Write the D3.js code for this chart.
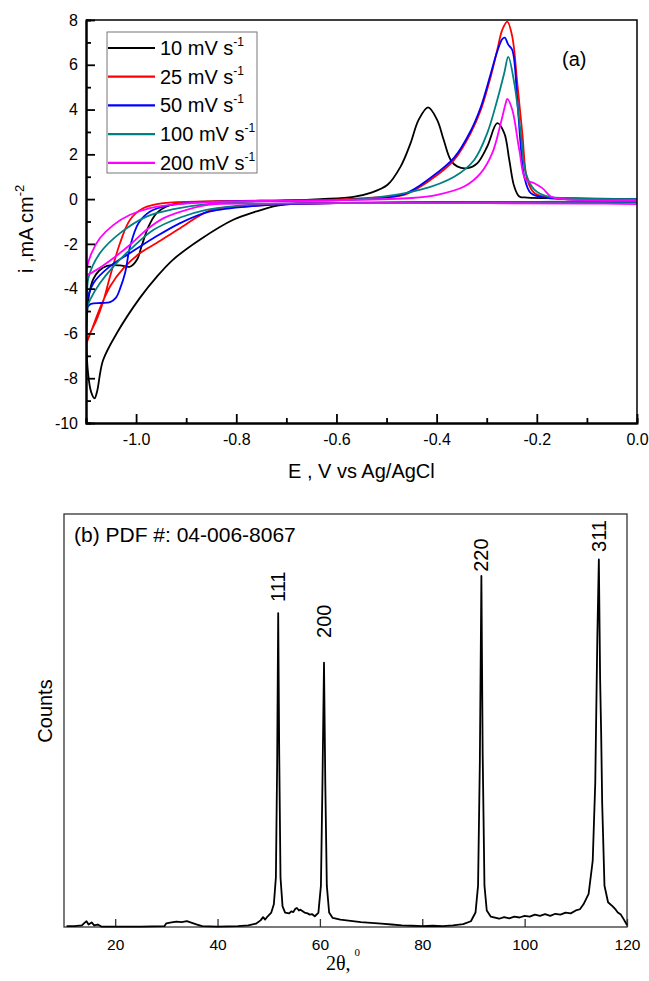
<!DOCTYPE html>
<html lang="en">
<head>
<meta charset="UTF-8">
<title>CV and XRD</title>
<script src="https://d3js.org/d3.v7.min.js"></script>
<style>
  body { margin: 0; background: #fff; }
  svg { display: block; font-family: "Liberation Sans", Arial, sans-serif; }
</style>
</head>
<body>
<svg id="chart" width="649" height="981"></svg>
<script>
// (a) cyclic voltammograms: [E (V vs Ag/AgCl), i (mA cm-2)]
const cv10 = [[0.0,-0.1],[-0.2,-0.12],[-0.4,-0.14],[-0.6,-0.17],[-0.68,-0.2],[-0.718,-0.29],[-0.76,-0.55],[-0.806,-0.92],[-0.872,-1.8],[-0.926,-2.7],[-0.958,-3.45],[-0.992,-4.4],[-1.038,-5.97],[-1.066,-7.2],[-1.078,-8.6],[-1.083,-8.9],[-1.09,-8.6],[-1.096,-7.75],[-1.099,-6.4],[-1.098,-5.2],[-1.094,-4.3],[-1.086,-3.6],[-1.074,-3.2],[-1.058,-2.98],[-1.032,-2.96],[-1.012,-3.02],[-0.998,-2.7],[-0.989,-2.1],[-0.975,-1.22],[-0.959,-0.63],[-0.939,-0.33],[-0.9,-0.15],[-0.8,-0.1],[-0.7,-0.07],[-0.632,0.0],[-0.566,0.1],[-0.532,0.28],[-0.498,0.64],[-0.472,1.45],[-0.452,2.5],[-0.436,3.54],[-0.417,4.1],[-0.399,3.54],[-0.386,2.65],[-0.372,1.75],[-0.359,1.46],[-0.339,1.38],[-0.319,1.6],[-0.299,2.35],[-0.279,3.39],[-0.265,2.95],[-0.255,1.75],[-0.245,0.56],[-0.235,0.12],[-0.219,0.07],[-0.15,0.04],[0.0,0.0]];
const cv25 = [[0.0,-0.12],[-0.3,-0.14],[-0.6,-0.18],[-0.7,-0.22],[-0.78,-0.32],[-0.852,-0.5],[-0.912,-1.3],[-0.959,-1.96],[-0.992,-2.41],[-1.025,-3.08],[-1.052,-3.9],[-1.072,-4.87],[-1.088,-5.8],[-1.1,-6.5],[-1.092,-6.0],[-1.079,-5.4],[-1.066,-4.6],[-1.052,-3.46],[-1.032,-1.96],[-1.012,-0.92],[-0.985,-0.4],[-0.945,-0.18],[-0.85,-0.1],[-0.7,-0.06],[-0.6,-0.02],[-0.52,0.08],[-0.465,0.19],[-0.412,0.86],[-0.365,1.75],[-0.332,2.95],[-0.312,3.97],[-0.292,5.47],[-0.279,6.66],[-0.269,7.56],[-0.259,7.93],[-0.249,7.26],[-0.239,5.18],[-0.229,2.95],[-0.219,0.86],[-0.205,0.27],[-0.165,0.04],[0.0,0.0]];
const cv50 = [[0.0,-0.14],[-0.3,-0.15],[-0.6,-0.18],[-0.7,-0.22],[-0.76,-0.3],[-0.852,-0.55],[-0.912,-1.07],[-0.965,-1.74],[-1.012,-2.41],[-1.052,-3.0],[-1.085,-3.75],[-1.1,-4.85],[-1.09,-4.68],[-1.07,-4.64],[-1.052,-4.6],[-1.04,-4.4],[-1.032,-4.0],[-1.022,-3.3],[-1.012,-2.12],[-0.995,-1.07],[-0.972,-0.55],[-0.939,-0.3],[-0.85,-0.12],[-0.7,-0.06],[-0.55,0.0],[-0.465,0.22],[-0.412,0.95],[-0.365,1.85],[-0.332,3.05],[-0.312,4.1],[-0.292,5.6],[-0.279,6.6],[-0.269,7.15],[-0.264,7.21],[-0.257,6.9],[-0.249,6.66],[-0.239,4.43],[-0.232,2.35],[-0.225,1.0],[-0.212,0.27],[-0.18,0.06],[0.0,0.0]];
const cv100 = [[0.0,-0.12],[-0.3,-0.14],[-0.6,-0.17],[-0.72,-0.2],[-0.8,-0.3],[-0.86,-0.48],[-0.912,-0.82],[-0.965,-1.37],[-1.012,-2.26],[-1.045,-3.0],[-1.072,-3.75],[-1.092,-4.5],[-1.1,-4.95],[-1.098,-4.4],[-1.095,-3.5],[-1.072,-2.41],[-1.032,-1.52],[-0.979,-0.78],[-0.925,-0.45],[-0.85,-0.2],[-0.7,-0.08],[-0.55,0.0],[-0.432,0.42],[-0.365,1.0],[-0.325,1.75],[-0.299,2.95],[-0.279,4.43],[-0.265,5.63],[-0.257,6.35],[-0.245,5.18],[-0.232,2.95],[-0.222,1.16],[-0.205,0.42],[-0.179,0.12],[-0.12,0.03],[0.0,0.0]];
const cv200 = [[0.0,-0.22],[-0.1,-0.2],[-0.3,-0.18],[-0.6,-0.18],[-0.75,-0.2],[-0.852,-0.25],[-0.899,-0.48],[-0.945,-0.85],[-0.979,-1.37],[-1.012,-2.04],[-1.045,-2.63],[-1.079,-3.16],[-1.1,-3.38],[-1.099,-3.16],[-1.089,-2.41],[-1.072,-1.74],[-1.045,-1.15],[-1.012,-0.7],[-0.972,-0.4],[-0.912,-0.21],[-0.8,-0.1],[-0.6,-0.05],[-0.45,0.05],[-0.399,0.19],[-0.345,0.56],[-0.312,1.16],[-0.289,2.05],[-0.272,3.39],[-0.262,4.29],[-0.259,4.48],[-0.249,3.99],[-0.235,2.2],[-0.222,0.86],[-0.205,0.71],[-0.189,0.49],[-0.172,0.12],[-0.152,0.01],[0.0,-0.05]];
const scanRates = ["10", "25", "50", "100", "200"];
const cvColors = ["#000000", "#ff0000", "#0000ff", "#008080", "#ff00ff"];
const xTicksA = [-1.0, -0.8, -0.6, -0.4, -0.2, 0.0];
const xMinorA = [-1.1, -0.9, -0.7, -0.5, -0.3, -0.1];
const yTicksA = [-10, -8, -6, -4, -2, 0, 2, 4, 6, 8];
const yMinorA = [-9, -7, -5, -3, -1, 1, 3, 5, 7];

// (b) XRD pattern: [2theta, counts (arb.)]
const xrd = [[10.5,0.002],[12,0.002],[13.5,0.004],[14.0,0.01],[14.4,0.014],[14.8,0.006],[15.4,0.011],[15.9,0.004],[16.6,0.006],[17.3,0.001],[20,0.001],[25,0.001],[29.6,0.002],[30.0,0.009],[31,0.011],[32,0.013],[33,0.012],[34,0.014],[35,0.01],[36,0.006],[37,0.002],[40,0.001],[44,0.002],[46,0.004],[47.5,0.008],[48.4,0.016],[48.9,0.024],[49.3,0.018],[49.8,0.026],[50.5,0.035],[51.0,0.055],[51.4,0.12],[51.65,0.4],[51.85,0.76],[52.05,0.42],[52.3,0.12],[52.7,0.05],[53.2,0.035],[54,0.033],[54.4,0.038],[54.8,0.036],[55.2,0.044],[55.5,0.046],[55.9,0.04],[56.2,0.042],[57,0.035],[57.6,0.033],[58,0.03],[58.5,0.031],[59,0.026],[59.7,0.034],[60.2,0.1],[60.5,0.35],[60.8,0.64],[61.05,0.35],[61.35,0.1],[61.8,0.035],[62.5,0.022],[64,0.018],[66,0.015],[68,0.012],[70,0.01],[72,0.008],[74,0.006],[76,0.004],[78,0.003],[80,0.002],[82,0.003],[84,0.002],[86,0.004],[88,0.007],[89.5,0.014],[90.4,0.035],[90.9,0.1],[91.25,0.4],[91.55,0.85],[91.8,0.42],[92.15,0.1],[92.6,0.04],[93.4,0.025],[95,0.02],[96,0.024],[97,0.021],[98,0.025],[99,0.023],[100,0.027],[101,0.025],[102,0.03],[103,0.027],[104,0.031],[105,0.027],[106,0.032],[107,0.03],[108,0.035],[109,0.033],[110,0.04],[110.8,0.043],[111.5,0.055],[112.5,0.08],[113.3,0.16],[113.8,0.35],[114.2,0.7],[114.5,0.89],[114.75,0.6],[114.95,0.47],[115.15,0.3],[115.6,0.1],[116.3,0.06],[117.2,0.05],[117.8,0.042],[118.2,0.035],[118.8,0.03],[119.2,0.022],[120,0.005]];
const peakLabels = ["111", "200", "220", "311"];
const peakPos = [51.85, 60.8, 91.55, 114.5];
const peakLabelAt = [0.787, 0.70, 0.86, 0.908];
const xTicksB = [20, 40, 60, 80, 100, 120];

const svg = d3.select("#chart");

// ---------- panel (a) ----------
const xA = d3.scaleLinear().domain([-1.1, 0]).range([86, 637]);
const yA = d3.scaleLinear().domain([-10, 8]).range([423, 20]);

svg.append("clipPath").attr("id", "clipA")
  .append("rect").attr("x", xA(-1.1)).attr("y", yA(8))
  .attr("width", xA(0) - xA(-1.1)).attr("height", yA(-10) - yA(8));

const cvSeries = [cv10, cv25, cv50, cv100, cv200];
const cvLine = d3.line()
  .x(d => xA(d[0])).y(d => yA(d[1]))
  .curve(d3.curveCatmullRom.alpha(0.5));

svg.append("g").attr("clip-path", "url(#clipA)")
  .selectAll("path").data(cvSeries).join("path")
  .attr("d", cvLine)
  .attr("fill", "none")
  .attr("stroke", (d, i) => cvColors[i])
  .attr("stroke-width", 1.8)
  .attr("stroke-linejoin", "round");

// frame top/right
svg.append("path")
  .attr("d", `M${xA(-1.1)},${yA(8)}H${xA(0)}V${yA(-10)}`)
  .attr("fill", "none").attr("stroke", "#000").attr("stroke-width", 1.5);

function styleAxis(g, size) {
  g.attr("font-family", null).attr("font-size", null);
  g.selectAll("text").attr("font-size", size).attr("fill", "#000");
  g.selectAll("line").attr("stroke", "#000").attr("stroke-width", 1.8);
  g.select(".domain").attr("stroke", "#000").attr("stroke-width", 2);
}

svg.append("g").attr("transform", `translate(0,${yA(-10)})`)
  .call(d3.axisBottom(xA).tickValues(xMinorA).tickSize(-5).tickFormat(""))
  .call(g => styleAxis(g, 16));
svg.append("g").attr("transform", `translate(0,${yA(-10)})`)
  .call(d3.axisBottom(xA).tickValues(xTicksA).tickSizeInner(-9).tickSizeOuter(0)
    .tickPadding(11).tickFormat(d => d.toFixed(1)))
  .call(g => styleAxis(g, 16));

svg.append("g").attr("transform", `translate(${xA(-1.1)},0)`)
  .call(d3.axisLeft(yA).tickValues(yMinorA).tickSize(-5).tickFormat(""))
  .call(g => styleAxis(g, 16));
svg.append("g").attr("transform", `translate(${xA(-1.1)},0)`)
  .call(d3.axisLeft(yA).tickValues(yTicksA).tickSizeInner(-9).tickSizeOuter(0)
    .tickPadding(8).tickFormat(d => String(d)))
  .call(g => styleAxis(g, 16));

// axis titles
svg.append("text").attr("x", 288).attr("y", 478).attr("font-size", 20)
  .text("E , V vs Ag/AgCl");
const yt = svg.append("text").attr("transform", "translate(33,273) rotate(-90)")
  .attr("font-size", 20);
yt.append("tspan").text("i ,mA cm");
yt.append("tspan").attr("dy", -9).attr("font-size", 13).text("-2");

svg.append("text").attr("x", 562).attr("y", 66).attr("font-size", 20).text("(a)");

// legend
const leg = svg.append("g");
leg.append("rect").attr("x", 107).attr("y", 32).attr("width", 150).attr("height", 141)
  .attr("fill", "#fff").attr("stroke", "#777").attr("stroke-width", 1);
const items = leg.selectAll("g.item").data(scanRates).join("g")
  .attr("class", "item")
  .attr("transform", (d, i) => `translate(0,${48 + i * 28.7})`);
items.append("line").attr("x1", 108).attr("x2", 155)
  .attr("stroke", (d, i) => cvColors[i]).attr("stroke-width", 2.2);
const lt = items.append("text").attr("x", 160).attr("y", 7).attr("font-size", 20);
lt.append("tspan").text(d => d + " mV s");
lt.append("tspan").attr("dy", -9).attr("font-size", 12).text("-1");

// ---------- panel (b) ----------
const xB = d3.scaleLinear().domain([10, 120]).range([64, 627]);
const yB = d3.scaleLinear().domain([0, 1]).range([927, 514]);

svg.append("rect").attr("x", xB(10)).attr("y", yB(1))
  .attr("width", xB(120) - xB(10)).attr("height", yB(0) - yB(1))
  .attr("fill", "none").attr("stroke", "#333").attr("stroke-width", 1.3);

svg.append("g").attr("transform", `translate(0,${yB(0)})`)
  .call(d3.axisBottom(xB).tickValues(xTicksB).tickSizeInner(-8).tickSizeOuter(0)
    .tickPadding(12).tickFormat(d => String(d)))
  .call(g => {
    styleAxis(g, 15.5);
    g.selectAll("line").attr("stroke", "#333").attr("stroke-width", 1.3);
    g.select(".domain").remove();
  });

svg.append("path").datum(xrd)
  .attr("d", d3.line().x(d => xB(d[0])).y(d => yB(d[1])))
  .attr("fill", "none").attr("stroke", "#000").attr("stroke-width", 1.8)
  .attr("stroke-linejoin", "round");

svg.append("g").selectAll("text").data(peakLabels).join("text")
  .attr("transform", (d, i) => `translate(${xB(peakPos[i]) + 7},${yB(peakLabelAt[i])}) rotate(-90)`)
  .attr("font-size", 20)
  .text(d => d);

svg.append("text").attr("x", 74).attr("y", 542).attr("font-size", 21)
  .text("(b) PDF #: 04-006-8067");

svg.append("text").attr("transform", "translate(52,711) rotate(-90)")
  .attr("text-anchor", "middle").attr("font-size", 20).text("Counts");

const xt = svg.append("text").attr("x", 326).attr("y", 970)
  .attr("font-family", "'Liberation Serif', 'Times New Roman', serif").attr("font-size", 20);
xt.append("tspan").text("2θ,");
xt.append("tspan").attr("dx", 4).attr("dy", -14).attr("font-size", 11).text("0");
</script>
</body>
</html>
